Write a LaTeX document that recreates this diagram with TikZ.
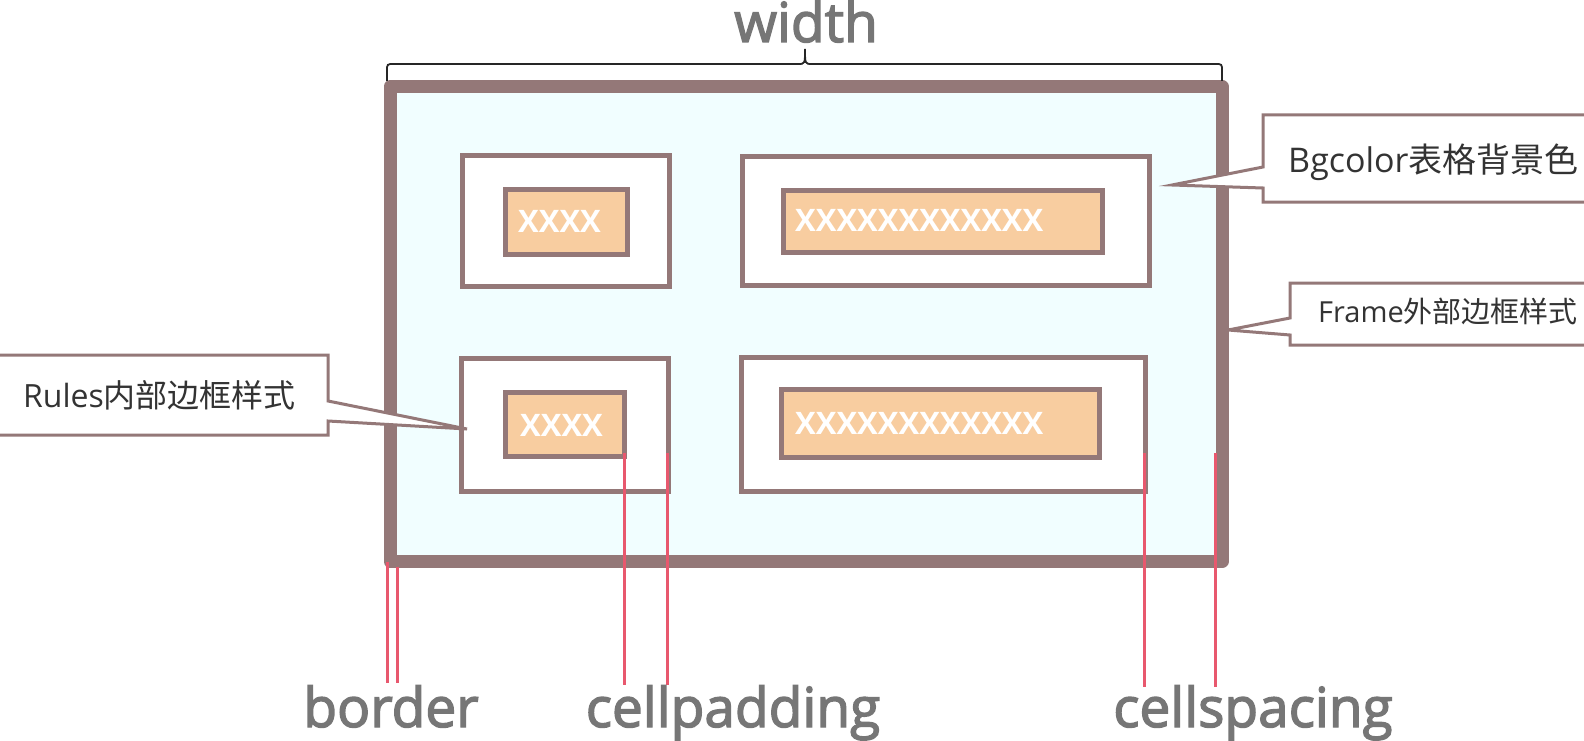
\documentclass[tikz,border=0pt]{standalone}
\usepackage{fontspec}
\setmainfont{Open Sans}
\newfontfamily\cjk{Noto Sans CJK SC}
\newfontfamily\labfont[FakeBold=2.5]{Open Sans}
\definecolor{frameC}{HTML}{947878}
\definecolor{bgC}{HTML}{F1FEFF}
\definecolor{orangeC}{HTML}{F8CDA0}
\definecolor{redC}{HTML}{E8586E}
\definecolor{labC}{HTML}{767676}
\definecolor{txtC}{HTML}{333333}
\tikzset{
  tablebox/.style={draw=frameC, fill=bgC, line width=13pt, line join=round, inner sep=0pt},
  cellbox/.style={draw=frameC, fill=white, line width=5pt, inner sep=0pt},
  databox/.style={draw=frameC, fill=orangeC, line width=5pt, inner sep=0pt},
  xtext/.style={anchor=base west, inner sep=0pt, text=white, font=\bfseries\fontsize{31}{31}\selectfont},
  callout/.style={draw=frameC, fill=white, line width=3pt, line join=miter},
  ctext/.style={anchor=base west, inner sep=0pt, text=txtC},
  redline/.style={draw=redC, line width=3pt},
  biglabel/.style={anchor=base, inner sep=0pt, text=labC, font=\labfont\fontsize{55}{55}\selectfont},
}
\begin{document}
\begin{tikzpicture}[x=1pt,y=-1pt]
\useasboundingbox (0,0) rectangle (1584,741);
\fill[white] (0,0) rectangle (1584,741);
\begin{scope}
\clip (0,0) rectangle (1584,741);
% table
\node[tablebox, minimum width=832pt, minimum height=475pt] (tbl) at (806,324) {};
% cells
\node[cellbox, minimum width=207pt, minimum height=131pt] (c1) at (565.5,220.5) {};
\node[databox, minimum width=122pt, minimum height=65pt] (d1) at (566,221.5) {};
\node[xtext] (x1) at (518,232) {XXXX};
\node[cellbox, minimum width=407pt, minimum height=129pt] (c2) at (945.5,220.5) {};
\node[databox, minimum width=319pt, minimum height=62pt] (d2) at (942.5,221) {};
\node[xtext] (x2) at (795,231) {XXXXXXXXXXXX};
\node[cellbox, minimum width=207pt, minimum height=133pt] (c3) at (564.5,424.5) {};
\node[databox, minimum width=119pt, minimum height=64pt] (d3) at (564.5,424) {};
\node[xtext] (x3) at (520,436) {XXXX};
\node[cellbox, minimum width=404pt, minimum height=134pt] (c4) at (943,424) {};
\node[databox, minimum width=318pt, minimum height=68pt] (d4) at (940,423) {};
\node[xtext] (x4) at (795,434) {XXXXXXXXXXXX};
% width brace
\node[biglabel] (w) at (806,42) {width};
\draw[line width=1.8pt, black!85] (387,81) -- (387,71) .. controls (387,64) .. (394,64) -- (798,64) .. controls (805,64) .. (805,49)
  .. controls (805,64) .. (812,64) -- (1215,64) .. controls (1222,64) .. (1222,71) -- (1222,81);
% callouts
\draw[callout] (1600,115) -- (1263,115) -- (1263,167) -- (1172,185) -- (1263,188) -- (1263,202) -- (1600,202);
\node[ctext, font=\fontsize{34}{34}\selectfont] (bg) at (1288,172) {Bgcolor{\cjk 表格背景色}};
\draw[callout] (1600,283) -- (1290,283) -- (1290,318) -- (1228,330) -- (1290,335) -- (1290,345) -- (1600,345);
\node[ctext, font=\fontsize{29}{29}\selectfont] (fr) at (1318,322) {Frame{\cjk 外部边框样式}};
\draw[callout] (-10,355) -- (328,355) -- (328,401) -- (467,429) -- (328,421) -- (328,435) -- (-10,435);
\node[ctext, font=\fontsize{32}{32}\selectfont] (ru) at (23,407) {Rules{\cjk 内部边框样式}};
% red measurement lines
\coordinate (b1t) at (387,562); \coordinate (b1b) at (387,683);
\coordinate (b2t) at (397,567); \coordinate (b2b) at (397,683);
\coordinate (p1t) at (624,453); \coordinate (p1b) at (624,685);
\coordinate (p2t) at (667,453); \coordinate (p2b) at (667,685);
\coordinate (s1t) at (1144,453); \coordinate (s1b) at (1144,687);
\coordinate (s2t) at (1215,453); \coordinate (s2b) at (1215,687);
\draw[redline] (b1t) -- (b1b);
\draw[redline] (b2t) -- (b2b);
\draw[redline] (p1t) -- (p1b);
\draw[redline] (p2t) -- (p2b);
\draw[redline] (s1t) -- (s1b);
\draw[redline] (s2t) -- (s2b);
% bottom labels
\node[biglabel] (lb) at (391,727) {border};
\node[biglabel] (lp) at (733,727) {cellpadding};
\node[biglabel] (ls) at (1253,727) {cellspacing};
\end{scope}
\end{tikzpicture}
\end{document}
